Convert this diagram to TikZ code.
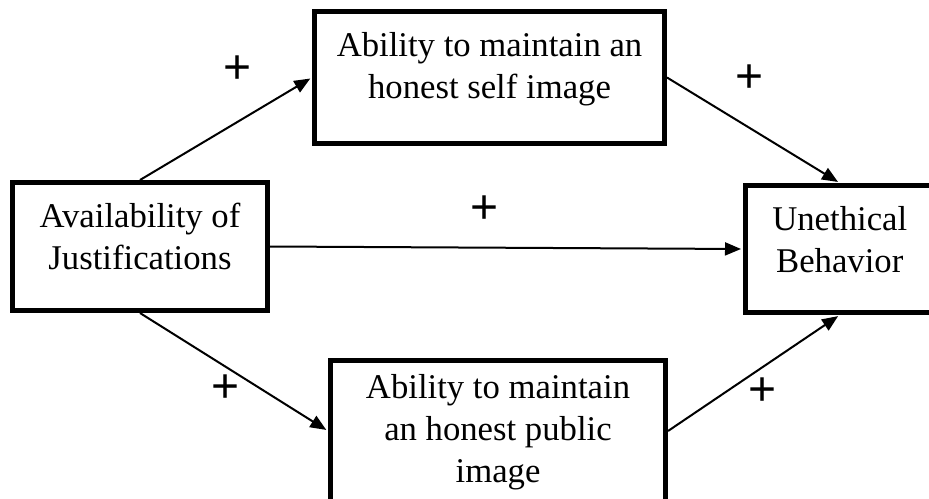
\documentclass[tikz,border=0pt]{standalone}
\usepackage{fontspec}
\setmainfont{Liberation Serif}
\newfontfamily\plusfont{Liberation Sans}
\usetikzlibrary{arrows.meta}

\begin{document}
\begin{tikzpicture}[
  x=1pt, y=-1pt,
  box/.style={rectangle, draw, line width=5pt, inner sep=0pt},
  boxtext/.style={align=center, inner sep=0pt, font=\fontsize{34.7}{42}\selectfont},
  sign/.style={inner sep=0pt, font=\plusfont\fontsize{48}{48}\selectfont},
  link/.style={-{Triangle[length=16pt,width=13pt]}, line width=2pt, shorten >=2pt},
  ]
  \useasboundingbox (0,0) rectangle (929,498);

  % boxes
  \node[box, minimum width=255pt, minimum height=128pt] (just) at (140,246.5) {};
  \node[box, minimum width=350pt, minimum height=132pt] (self) at (489.5,77.5) {};
  \node[box, minimum width=335pt, minimum height=141pt] (public) at (498,431) {};
  \node[box, minimum width=188.5pt, minimum height=127pt] (uneth) at (839.75,249) {};

  % box texts
  \node[boxtext] (just-txt) at (140,236.5) {Availability of\\Justifications};
  \node[boxtext] (self-txt) at (489.5,69.5) {Ability to maintain an\\honest self image};
  \node[boxtext] (public-txt) at (498,432) {Ability to maintain\\an honest public\\image};
  \node[boxtext] (uneth-txt) at (839.75,239.5) {Unethical\\Behavior};

  % signs
  \node[sign] (plus1) at (238,70) {+};
  \node[sign] (plus2) at (750,79) {+};
  \node[sign] (plus3) at (485,210) {+};
  \node[sign] (plus4) at (226,389) {+};
  \node[sign] (plus5) at (763,392) {+};

  % arrows
  \draw[link] (just.north) -- (self.west);
  \draw[link] (self.east) -- (uneth.north);
  \draw[link] (just.east) -- (uneth.west);
  \draw[link] (just.south) -- (public.west);
  \draw[link] (public.east) -- (uneth.south);
\end{tikzpicture}
\end{document}
